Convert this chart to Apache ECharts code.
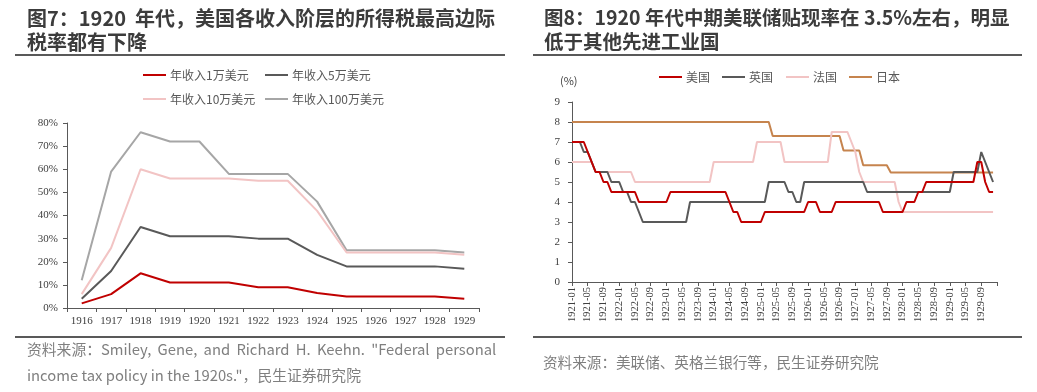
<!DOCTYPE html>
<html>
<head>
<meta charset="utf-8">
<script src="https://cdn.jsdelivr.net/npm/echarts@6/dist/echarts.min.js"></script>
<style>
html,body{margin:0;padding:0;background:#fff;}
#c{width:1037px;height:392px;}
</style>
</head>
<body>
<div id="c"></div>
<script>
// ---------- Figure 7 data (top marginal tax rate, %) ----------
const taxYears = ['1916','1917','1918','1919','1920','1921','1922','1923','1924','1925','1926','1927','1928','1929'];
const tax1w   = [2, 6, 15, 11, 11, 11, 9, 9, 6.5, 5, 5, 5, 5, 4];
const tax5w   = [4, 16, 35, 31, 31, 31, 30, 30, 23, 18, 18, 18, 18, 17];
const tax10w  = [6, 26, 60, 56, 56, 56, 55, 55, 42, 24, 24, 24, 24, 23];
const tax100w = [12, 59, 76, 72, 72, 58, 58, 58, 46, 25, 25, 25, 25, 24];
const taxNames = ['年收入1万美元','年收入5万美元','年收入10万美元','年收入100万美元'];

// ---------- Figure 8 data (discount rate, %, monthly 1921-01 .. 1929-12) ----------
const rateYears = [1921,1922,1923,1924,1925,1926,1927,1928,1929,1930];
const usRate = [
  7,7,7,7,6.5,6,5.5,5.5,5,5,4.5,4.5,            // 1921
  4.5,4.5,4.5,4.5,4.5,4,4,4,4,4,4,4,            // 1922
  4,4.5,4.5,4.5,4.5,4.5,4.5,4.5,4.5,4.5,4.5,4.5, // 1923
  4.5,4.5,4.5,4.5,4,3.5,3.5,3,3,3,3,3,          // 1924
  3,3.5,3.5,3.5,3.5,3.5,3.5,3.5,3.5,3.5,3.5,3.5, // 1925
  4,4,4,3.5,3.5,3.5,3.5,4,4,4,4,4,              // 1926
  4,4,4,4,4,4,4,3.5,3.5,3.5,3.5,3.5,            // 1927
  3.5,4,4,4,4.5,4.5,5,5,5,5,5,5,                // 1928
  5,5,5,5,5,5,5,6,6,5,4.5,4.5                   // 1929
];
const ukRate = [
  7,7,7,6.5,6.5,6,5.5,5.5,5.5,5.5,5,5,          // 1921
  5,4.5,4.5,4,4,3.5,3,3,3,3,3,3,                // 1922
  3,3,3,3,3,3,4,4,4,4,4,4,                      // 1923
  4,4,4,4,4,4,4,4,4,4,4,4,                      // 1924
  4,4,5,5,5,5,5,4.5,4.5,4,4,5,                  // 1925
  5,5,5,5,5,5,5,5,5,5,5,5,                      // 1926
  5,5,5,4.5,4.5,4.5,4.5,4.5,4.5,4.5,4.5,4.5,    // 1927
  4.5,4.5,4.5,4.5,4.5,4.5,4.5,4.5,4.5,4.5,4.5,4.5, // 1928
  4.5,5.5,5.5,5.5,5.5,5.5,5.5,5.5,6.5,6,5.5,5   // 1929
];
const frRate = [
  6,6,6,6,6,6,5.5,5.5,5.5,5.5,5.5,5.5,          // 1921
  5.5,5.5,5.5,5.5,5,5,5,5,5,5,5,5,              // 1922
  5,5,5,5,5,5,5,5,5,5,5,5,                      // 1923
  6,6,6,6,6,6,6,6,6,6,6,7,                      // 1924
  7,7,7,7,7,7,6,6,6,6,6,6,                      // 1925
  6,6,6,6,6,6,7.5,7.5,7.5,7.5,7.5,7,            // 1926
  6.5,5.5,5,5,5,5,5,5,5,5,5,4,                  // 1927
  3.5,3.5,3.5,3.5,3.5,3.5,3.5,3.5,3.5,3.5,3.5,3.5, // 1928
  3.5,3.5,3.5,3.5,3.5,3.5,3.5,3.5,3.5,3.5,3.5,3.5  // 1929
];
const jpRate = [
  8,8,8,8,8,8,8,8,8,8,8,8,                      // 1921
  8,8,8,8,8,8,8,8,8,8,8,8,                      // 1922
  8,8,8,8,8,8,8,8,8,8,8,8,                      // 1923
  8,8,8,8,8,8,8,8,8,8,8,8,                      // 1924
  8,8,8,7.3,7.3,7.3,7.3,7.3,7.3,7.3,7.3,7.3,    // 1925
  7.3,7.3,7.3,7.3,7.3,7.3,7.3,7.3,7.3,6.57,6.57,6.57, // 1926
  6.57,6.57,5.84,5.84,5.84,5.84,5.84,5.84,5.84,5.48,5.48,5.48, // 1927
  5.48,5.48,5.48,5.48,5.48,5.48,5.48,5.48,5.48,5.48,5.48,5.48, // 1928
  5.48,5.48,5.48,5.48,5.48,5.48,5.48,5.48,5.48,5.48,5.48,5.48  // 1929
];
const rateNames = ['美国','英国','法国','日本'];

// month categories 1921-01 .. 1930-01
const months = [];
rateYears.forEach(y => {
  for (let m = 1; m <= 12; m++) {
    if (y === 1930 && m > 1) break;
    months.push(y + '-' + (m < 10 ? '0' + m : m));
  }
});

const C_RED = '#C00000', C_DARK = '#595959', C_PINK = '#F2C4C4', C_GRAY = '#A6A6A6', C_ORANGE = '#C6844E';
const CJK = '"Noto Sans CJK SC", "Noto Sans", sans-serif';
const SERIF = '"Liberation Serif", "DejaVu Serif", serif';
const AX = '#595959';

const chart = echarts.init(document.getElementById('c'), null, {renderer: 'canvas'});

function legendItem(name, left, top) {
  return {
    data: [name], left: left, top: top, icon: 'rect', itemWidth: 23, itemHeight: 2,
    itemGap: 0, padding: 0, selectedMode: false,
    textStyle: {fontFamily: CJK, fontSize: 12, color: '#595959', padding: [0, 0, 0, -1]}
  };
}

const option = {
  animation: false,
  backgroundColor: '#fff',
  legend: [
    legendItem(taxNames[0], 143, 69),
    legendItem(taxNames[1], 265, 69),
    legendItem(taxNames[2], 143, 93),
    legendItem(taxNames[3], 265, 93),
    legendItem(rateNames[0], 659, 71),
    legendItem(rateNames[1], 722, 71),
    legendItem(rateNames[2], 786, 71),
    legendItem(rateNames[3], 849, 71)
  ],
  grid: [
    {left: 67, top: 123, width: 412, height: 185},
    {left: 572, top: 102, width: 425, height: 180}
  ],
  xAxis: [
    {
      gridIndex: 0, type: 'category', data: taxYears, boundaryGap: true,
      axisLine: {lineStyle: {color: AX, width: 1}},
      axisTick: {show: true, length: 4, lineStyle: {color: AX}},
      axisLabel: {fontFamily: SERIF, fontSize: 11, color: '#404040', margin: 8}
    },
    {
      gridIndex: 1, type: 'category', data: months, boundaryGap: false,
      axisLine: {lineStyle: {color: AX, width: 1}},
      axisTick: {show: true, length: 4, interval: 3, lineStyle: {color: AX}},
      axisLabel: {
        fontFamily: SERIF, fontSize: 10.5, color: '#404040', rotate: 90, interval: 3, margin: 5,
        formatter: function (v, i) { return i >= 108 ? '' : v; }
      }
    }
  ],
  yAxis: [
    {
      gridIndex: 0, type: 'value', min: 0, max: 80, interval: 10,
      axisLine: {show: true, lineStyle: {color: AX}},
      axisTick: {show: true, length: 4, lineStyle: {color: AX}},
      splitLine: {show: false},
      axisLabel: {fontFamily: SERIF, fontSize: 11, color: '#404040', margin: 9, formatter: '{value}%'}
    },
    {
      gridIndex: 1, type: 'value', min: 0, max: 9, interval: 1,
      axisLine: {show: true, lineStyle: {color: AX}},
      axisTick: {show: true, length: 4, lineStyle: {color: AX}},
      splitLine: {show: false},
      axisLabel: {fontFamily: SERIF, fontSize: 11, color: '#404040', margin: 12}
    }
  ],
  series: [
    {name: taxNames[0], type: 'line', xAxisIndex: 0, yAxisIndex: 0, data: tax1w, symbol: 'none', z: 5, lineStyle: {color: C_RED, width: 2}, itemStyle: {color: C_RED}},
    {name: taxNames[1], type: 'line', xAxisIndex: 0, yAxisIndex: 0, data: tax5w, symbol: 'none', z: 4, lineStyle: {color: C_DARK, width: 2}, itemStyle: {color: C_DARK}},
    {name: taxNames[2], type: 'line', xAxisIndex: 0, yAxisIndex: 0, data: tax10w, symbol: 'none', z: 3, lineStyle: {color: C_PINK, width: 2}, itemStyle: {color: C_PINK}},
    {name: taxNames[3], type: 'line', xAxisIndex: 0, yAxisIndex: 0, data: tax100w, symbol: 'none', z: 2, lineStyle: {color: C_GRAY, width: 2}, itemStyle: {color: C_GRAY}},
    {name: rateNames[3], type: 'line', xAxisIndex: 1, yAxisIndex: 1, data: jpRate, symbol: 'none', z: 2, lineStyle: {color: C_ORANGE, width: 2}, itemStyle: {color: C_ORANGE}},
    {name: rateNames[2], type: 'line', xAxisIndex: 1, yAxisIndex: 1, data: frRate, symbol: 'none', z: 3, lineStyle: {color: C_PINK, width: 2}, itemStyle: {color: C_PINK}},
    {name: rateNames[1], type: 'line', xAxisIndex: 1, yAxisIndex: 1, data: ukRate, symbol: 'none', z: 4, lineStyle: {color: C_DARK, width: 2}, itemStyle: {color: C_DARK}},
    {name: rateNames[0], type: 'line', xAxisIndex: 1, yAxisIndex: 1, data: usRate, symbol: 'none', z: 5, lineStyle: {color: C_RED, width: 2}, itemStyle: {color: C_RED}}
  ],
  graphic: [
    // left title
    {type: 'text', left: 27, top: 8, style: {text: '图7：1920  年代，美国各收入阶层的所得税最高边际', font: 'bold 20px ' + CJK, fill: '#3C3C3C'}},
    {type: 'text', left: 27, top: 32, style: {text: '税率都有下降', font: 'bold 20px ' + CJK, fill: '#3C3C3C'}},
    {type: 'rect', shape: {x: 15, y: 54, width: 490, height: 2}, style: {fill: '#595959'}},
    // right title
    {type: 'text', left: 544, top: 8, style: {text: '图8：1920 年代中期美联储贴现率在 3.5%左右，明显', font: 'bold 19.5px ' + CJK, fill: '#3C3C3C'}},
    {type: 'text', left: 544, top: 32, style: {text: '低于其他先进工业国', font: 'bold 19.5px ' + CJK, fill: '#3C3C3C'}},
    {type: 'rect', shape: {x: 533, y: 54, width: 489, height: 2}, style: {fill: '#595959'}},
    // unit
    {type: 'text', left: 560, top: 75, style: {text: '(%)', font: '11px ' + CJK, fill: '#404040'}},
    // bottom rules
    {type: 'rect', shape: {x: 15, y: 336, width: 490, height: 2}, style: {fill: '#595959'}},
    {type: 'rect', shape: {x: 533, y: 336, width: 489, height: 2}, style: {fill: '#595959'}},
    // sources
    {type: 'text', left: 27, top: 342, style: {text: '资料来源：Smiley,\u2009 Gene,\u2009 and\u2009 Richard\u2009 H.\u2009 Keehn.\u2009 "Federal\u2009 personal', font: '14.8px ' + CJK, fill: '#7F7F7F'}},
    {type: 'text', left: 27, top: 368, style: {text: 'income tax policy in the 1920s."，民生证券研究院', font: '14.8px ' + CJK, fill: '#7F7F7F'}},
    {type: 'text', left: 543, top: 355, style: {text: '资料来源：美联储、英格兰银行等，民生证券研究院', font: '14.6px ' + CJK, fill: '#7F7F7F'}}
  ]
};
chart.setOption(option);
</script>
</body>
</html>
